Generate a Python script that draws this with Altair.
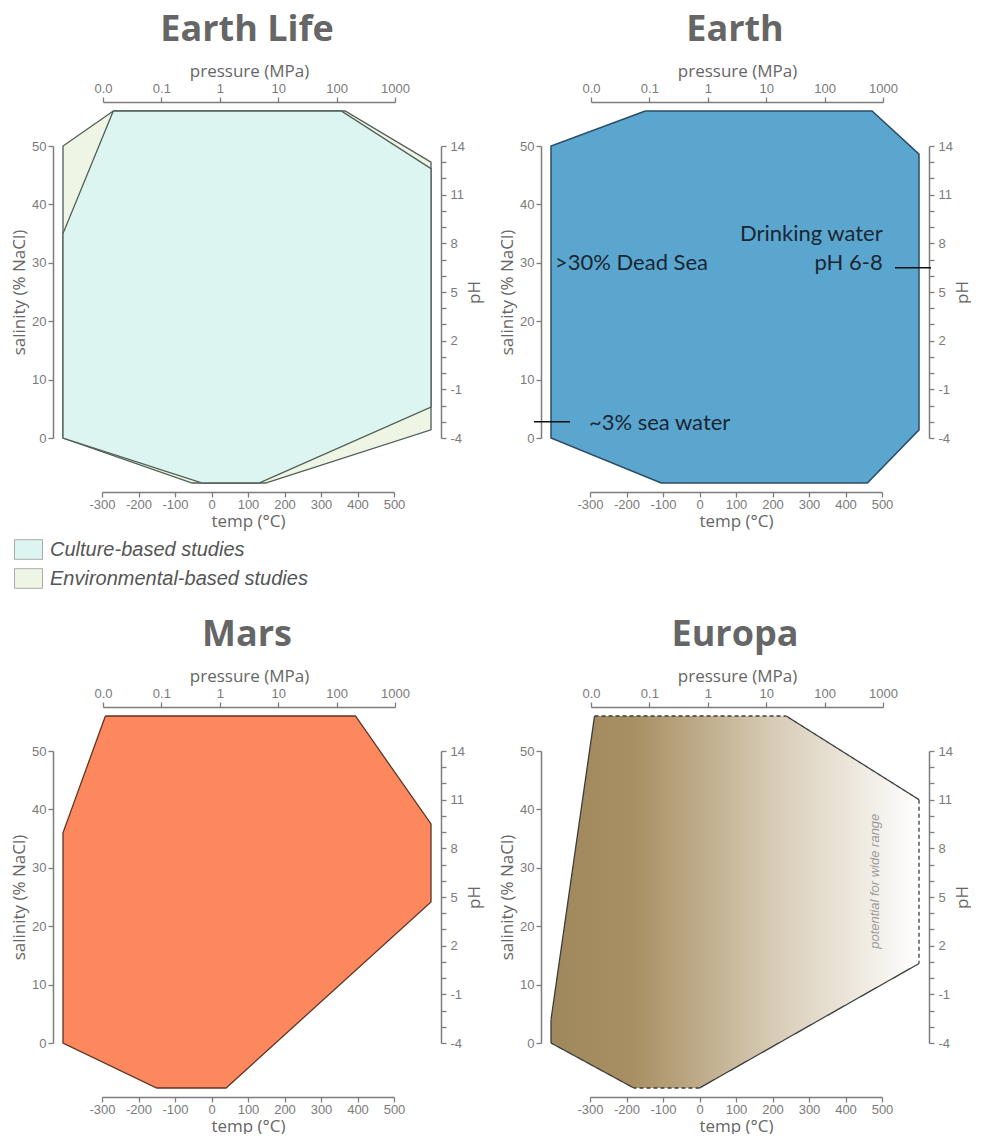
import math
import altair as alt
import pandas as pd

# ---------------- data ----------------
# Each envelope is an octagon with two vertices on each of the four axes:
# pressure (top edge, left->right), pH (right edge, top->bottom),
# temperature (bottom edge, right->left), salinity (left edge, bottom->top)
life_culture_pressure = [0.015, 120]
life_culture_ph = [12.6, -2.1]
life_culture_temp = [130, -25]
life_culture_salinity = [0, 35]

life_env_pressure = [0.015, 140]
life_env_ph = [13.0, -3.5]
life_env_temp = [148, -53]
life_env_salinity = [0, 50]

earth_pressure = [0.085, 650]
earth_ph = [13.5, -3.5]
earth_temp = [460, -105]
earth_salinity = [0, 50]

mars_pressure = [0.011, 210]
mars_ph = [9.5, 4.7]
mars_temp = [40, -150]
mars_salinity = [0, 36]

europa_pressure = [0.0115, 22]
europa_ph = [11.0, 0.9]
europa_temp = [0, -180]
europa_salinity = [0, 4]
europa_dashed_edges = ["top", "right", "bottom"]

study_names = ["Culture-based studies", "Environmental-based studies"]

pressure_ticks = [0.01, 0.1, 1, 10, 100, 1000]
pressure_tick_labels = ["0.0", "0.1", "1", "10", "100", "1000"]
temp_ticks = [-300, -200, -100, 0, 100, 200, 300, 400, 500]
salinity_ticks = [0, 10, 20, 30, 40, 50]
ph_ticks = list(range(-4, 15))

earth_notes = [">30% Dead Sea", "Drinking water", "pH 6-8", "~3% sea water"]
earth_note_temp = [-396, 502, 502, -303]
earth_note_salinity = [30, 35, 30, 2.6]
earth_note_align = ["left", "right", "right", "left"]
sea_water_salinity = 2.8
drinking_water_ph = 6.5
europa_note = "potential for wide range"

# ---------------- geometry of one panel ----------------
W, H = 388, 390
TEMP_DOMAIN, TEMP_RANGE = [-300, 500], [49, 341]
PRES_DOMAIN, PRES_RANGE = [0.01, 1000], [50, 342]
SAL_DOMAIN, SAL_RANGE = [0, 50], [336, 44]
PH_DOMAIN, PH_RANGE = [-4, 14], [336, 44]
FRAME_LEFT, FRAME_RIGHT, FRAME_TOP, FRAME_BOTTOM = 10, 378, 9, 381


def lin(v, d, r):
    return r[0] + (v - d[0]) / (d[1] - d[0]) * (r[1] - r[0])


def temp_of_px(px):
    return lin(px, TEMP_RANGE, TEMP_DOMAIN)


def sal_of_px(py):
    return lin(py, SAL_RANGE, SAL_DOMAIN)


def pres_px(p):
    return lin(math.log10(p), [math.log10(PRES_DOMAIN[0]), math.log10(PRES_DOMAIN[1])], PRES_RANGE)


def ph_px(ph):
    return lin(ph, PH_DOMAIN, PH_RANGE)


EDGE_NAMES = ["top", "top-right", "right", "bottom-right", "bottom", "bottom-left", "left", "top-left"]


def octagon(pressure, ph, temp, salinity):
    pts = [
        (temp_of_px(pres_px(pressure[0])), sal_of_px(FRAME_TOP)),
        (temp_of_px(pres_px(pressure[1])), sal_of_px(FRAME_TOP)),
        (temp_of_px(FRAME_RIGHT), sal_of_px(ph_px(ph[0]))),
        (temp_of_px(FRAME_RIGHT), sal_of_px(ph_px(ph[1]))),
        (temp[0], sal_of_px(FRAME_BOTTOM)),
        (temp[1], sal_of_px(FRAME_BOTTOM)),
        (temp_of_px(FRAME_LEFT), salinity[0]),
        (temp_of_px(FRAME_LEFT), salinity[1]),
    ]
    return pts


def poly_df(pts, **extra):
    closed = pts + [pts[0]]
    df = pd.DataFrame({"idx": range(len(closed)),
                       "x": [p[0] for p in closed],
                       "y": [p[1] for p in closed]})
    for k, v in extra.items():
        df[k] = v
    return df


AX = dict(domainColor="#7d7d7d", domainWidth=1.5, tickColor="#7d7d7d", tickWidth=1.3,
          tickSize=5, labelColor="#7a7a7a", labelFontSize=13, labelFont="Liberation Sans",
          titleColor="#666666", titleFontSize=17, titleFont="Open Sans",
          titleFontWeight="normal", grid=False, labelOverlap=False, labelBound=False,
          labelFlush=False)

x_enc = alt.X("x:Q",
              scale=alt.Scale(domain=TEMP_DOMAIN, range=TEMP_RANGE, nice=False, zero=False),
              axis=alt.Axis(orient="bottom", values=temp_ticks, title="temp (°C)",
                            labelExpr="'' + datum.value", labelPadding=1, titlePadding=2, **AX))
y_enc = alt.Y("y:Q",
              scale=alt.Scale(domain=SAL_DOMAIN, range=SAL_RANGE, nice=False, zero=False),
              axis=alt.Axis(orient="left", values=salinity_ticks, title="salinity (% NaCl)",
                            labelPadding=2, titlePadding=3, **AX))

pres_expr = " : ".join(f"datum.value == {v} ? '{l}'" for v, l in zip(pressure_ticks, pressure_tick_labels)) + " : ''"


def panel(title, inner_layers):
    pres_layer = alt.Chart(pd.DataFrame({"pressure": pressure_ticks})).mark_point(opacity=0).encode(
        x=alt.X("pressure:Q",
                scale=alt.Scale(type="log", domain=PRES_DOMAIN, range=PRES_RANGE, nice=False),
                axis=alt.Axis(orient="top", values=pressure_ticks, labelExpr=pres_expr,
                              title="pressure (MPa)", labelPadding=2, titlePadding=2, **AX)))
    ph_layer = alt.Chart(pd.DataFrame({"ph": ph_ticks})).mark_point(opacity=0).encode(
        y=alt.Y("ph:Q",
                scale=alt.Scale(domain=PH_DOMAIN, range=PH_RANGE, nice=False, zero=False),
                axis=alt.Axis(orient="right", values=ph_ticks, title="pH", titleAngle=-90,
                              titleBaseline="top",
                              labelExpr="(datum.value + 4) % 3 == 0 ? '' + datum.value : ''",
                              labelPadding=4, titlePadding=2, **AX)))
    inner = alt.layer(*inner_layers)
    return alt.layer(inner, pres_layer, ph_layer).resolve_scale(
        x="independent", y="independent").properties(
        width=W, height=H,
        title=alt.TitleParams(title, fontSize=36, font="Open Sans", fontWeight="bold",
                              color="#666666", anchor="middle", frame="group", offset=13))


# ---------------- Earth Life ----------------
fill_scale = alt.Scale(domain=study_names, range=["#ddf5f0", "#eef5e4"])
legend = alt.Legend(orient="none", legendX=-39, legendY=433, title=None,
                    symbolType="M-1,-0.7L1,-0.7L1,0.7L-1,0.7Z", symbolSize=784,
                    symbolStrokeColor="#aaaaaa", symbolStrokeWidth=1, symbolOpacity=1,
                    labelFontSize=20, labelFontStyle="italic", labelColor="#555555",
                    labelFont="Liberation Sans", labelOffset=7, rowPadding=2, padding=0,
                    labelLimit=400)

env_df = poly_df(octagon(life_env_pressure, life_env_ph, life_env_temp, life_env_salinity),
                 study=study_names[1])
cul_df = poly_df(octagon(life_culture_pressure, life_culture_ph, life_culture_temp, life_culture_salinity),
                 study=study_names[0])


def study_layer(df):
    return alt.Chart(df).mark_line(stroke="#4f5d56", strokeWidth=1.3).encode(
        x=x_enc, y=y_enc, order="idx:Q",
        fill=alt.Fill("study:N", scale=fill_scale, legend=legend))


p1 = panel("Earth Life", [study_layer(env_df), study_layer(cul_df)])

# ---------------- Earth ----------------
earth_df = poly_df(octagon(earth_pressure, earth_ph, earth_temp, earth_salinity))
earth_poly = alt.Chart(earth_df).mark_line(fill="#5aa6cf", stroke="#2c4c66", strokeWidth=1.5).encode(
    x=x_enc, y=y_enc, order="idx:Q")
notes_df = pd.DataFrame({"x": earth_note_temp, "y": earth_note_salinity,
                         "label": earth_notes, "align": earth_note_align})
notes_left = alt.Chart(notes_df[notes_df["align"] == "left"]).mark_text(
    align="left", baseline="middle", font="Lato", fontSize=22, color="#1b2633").encode(
    x=x_enc, y=y_enc, text="label:N")
notes_right = alt.Chart(notes_df[notes_df["align"] == "right"]).mark_text(
    align="right", baseline="middle", font="Lato", fontSize=22, color="#1b2633").encode(
    x=x_enc, y=y_enc, text="label:N")
lines_df = pd.DataFrame({
    "x": [temp_of_px(-7), temp_of_px(354)],
    "x2": [temp_of_px(29), temp_of_px(390)],
    "y": [sea_water_salinity, sal_of_px(ph_px(drinking_water_ph))],
})
earth_lines = alt.Chart(lines_df).mark_rule(color="#111111", strokeWidth=1.5).encode(
    x=x_enc, x2="x2:Q", y=y_enc)
p2 = panel("Earth", [earth_poly, earth_lines, notes_left, notes_right])

# ---------------- Mars ----------------
mars_df = poly_df(octagon(mars_pressure, mars_ph, mars_temp, mars_salinity))
mars_poly = alt.Chart(mars_df).mark_line(fill="#fd885e", stroke="#5e3526", strokeWidth=1.3).encode(
    x=x_enc, y=y_enc, order="idx:Q")
p3 = panel("Mars", [mars_poly])

# ---------------- Europa ----------------
europa_pts = octagon(europa_pressure, europa_ph, europa_temp, europa_salinity)
europa_df = poly_df(europa_pts)
grad = alt.Gradient(gradient="linear", x1=0, x2=1, y1=0, y2=0, stops=[
    alt.GradientStop(color="#9f885d", offset=0),
    alt.GradientStop(color="#a88f63", offset=0.22),
    alt.GradientStop(color="#bba784", offset=0.38),
    alt.GradientStop(color="#d7cbb5", offset=0.6),
    alt.GradientStop(color="#ece7dd", offset=0.82),
    alt.GradientStop(color="#ffffff", offset=1),
])
europa_poly = alt.Chart(europa_df).mark_line(fill=grad, strokeOpacity=0).encode(
    x=x_enc, y=y_enc, order="idx:Q")
edges = []
for i, name in enumerate(EDGE_NAMES):
    a, b = europa_pts[i], europa_pts[(i + 1) % len(europa_pts)]
    edges.append({"x": a[0], "y": a[1], "x2": b[0], "y2": b[1],
                  "style": "dashed" if name in europa_dashed_edges else "solid"})
europa_edges = alt.Chart(pd.DataFrame(edges)).mark_rule(color="#3d3d3d", strokeWidth=1.3).encode(
    x=x_enc, y=y_enc, x2="x2:Q", y2="y2:Q",
    strokeDash=alt.StrokeDash("style:N", scale=alt.Scale(domain=["solid", "dashed"],
                                                         range=[[1, 0], [4, 3]]), legend=None))
europa_text = alt.Chart(pd.DataFrame({"x": [482], "y": [27.7], "label": [europa_note]})).mark_text(
    angle=270, align="center", baseline="middle", font="Liberation Sans", fontStyle="italic",
    fontSize=13, color="#9a9a9a").encode(x=x_enc, y=y_enc, text="label:N")
p4 = panel("Europa", [europa_poly, europa_edges, europa_text])

chart = alt.vconcat(
    alt.hconcat(p1, p2, spacing=15),
    alt.hconcat(p3, p4, spacing=15),
    spacing=88,
).properties(padding={"left": 2, "top": 4, "right": 0, "bottom": 0}).configure_view(stroke=None)

chart.save("out.html", embed_options={"renderer": "svg", "actions": False})
